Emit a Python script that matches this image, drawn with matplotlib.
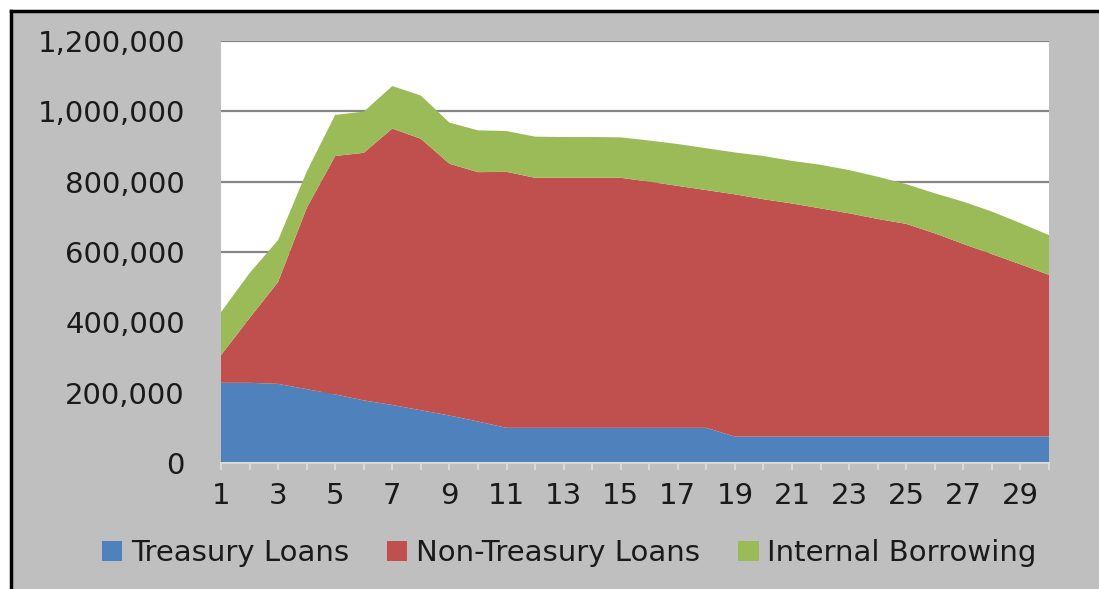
import matplotlib
matplotlib.use("Agg")
import matplotlib.pyplot as plt
from matplotlib.patches import Rectangle, Patch
from matplotlib.lines import Line2D
from matplotlib.ticker import FuncFormatter

years = list(range(1, 31))
treasury = [228000, 228000, 225000, 210000, 195000, 178000, 165000, 150000, 135000, 118000,
            100000, 100000, 100000, 100000, 100000, 100000, 100000, 100000, 75000, 75000,
            75000, 75000, 75000, 75000, 75000, 75000, 75000, 75000, 75000, 75000]
non_treasury = [79000, 184000, 290000, 515000, 678000, 704000, 786000, 772000, 716000, 709000,
                728000, 711000, 711000, 711000, 711000, 700000, 688000, 676000, 689000, 675000,
                663000, 649000, 635000, 619000, 605000, 578000, 548000, 519000, 490000, 460000]
internal = [122000, 128000, 119000, 103000, 117000, 117000, 121000, 123000, 117000, 119000,
            116000, 117000, 116000, 116000, 115000, 117000, 119000, 119000, 119000, 123000,
            121000, 124000, 123000, 120000, 113000, 114000, 120000, 121000, 117000, 113000]
series_names = ["Treasury Loans", "Non-Treasury Loans", "Internal Borrowing"]
colors = ["#4F81BD", "#C0504D", "#9BBB59"]
y_ticks = [0, 200000, 400000, 600000, 800000, 1000000, 1200000]

W, H = 1099, 589
fig = plt.figure(figsize=(W / 100, H / 100), dpi=100, facecolor="white")

# grey chart area with black top/left border
fig.patches.append(Rectangle((12 / W, 0), 1 - 12 / W, (H - 12) / H, transform=fig.transFigure,
                             facecolor="#BFBFBF", edgecolor="none", zorder=-10))
fig.add_artist(Line2D([10.5 / W, 10.5 / W], [0, (H - 10.5) / H], transform=fig.transFigure,
                      color="black", lw=2.5, zorder=-5))
fig.add_artist(Line2D([10.5 / W, 1], [(H - 10.5) / H, (H - 10.5) / H], transform=fig.transFigure,
                      color="black", lw=2.5, zorder=-5))

ax = fig.add_axes([221 / W, (H - 463) / H, (1049 - 221) / W, (463 - 41) / H], zorder=1)
ax.set_facecolor("white")
ax.stackplot(years, treasury, non_treasury, internal, colors=colors, labels=series_names,
             linewidth=0, zorder=2)

ax.set_xlim(1, 30)
ax.set_ylim(0, 1200000)
ax.set_yticks(y_ticks)
ax.yaxis.set_major_formatter(FuncFormatter(lambda v, p: f"{int(v):,}"))
ax.grid(axis="y", color="#868686", lw=1.6, zorder=1)
ax.set_axisbelow(True)

ax.set_xticks(years)
ax.set_xticklabels([str(y) if y % 2 == 1 else "" for y in years])

for s in ["top", "right", "left"]:
    ax.spines[s].set_visible(False)
ax.spines["bottom"].set_color("#D9D9D9")
ax.spines["bottom"].set_linewidth(1.5)
ax.spines["bottom"].set_zorder(3)

font = "DejaVu Sans"
ax.tick_params(axis="y", length=0, pad=26, labelsize=21, labelcolor="#1A1A1A")
ax.tick_params(axis="x", length=5, width=1.5, color="#D9D9D9", direction="out", pad=9,
               labelsize=21, labelcolor="#1A1A1A")
for lbl in ax.get_xticklabels() + ax.get_yticklabels():
    lbl.set_family(font)

handles = [Patch(facecolor=c, edgecolor="none") for c in colors]
fig.legend(handles, series_names, loc="center", bbox_to_anchor=(0.518, 36 / H), ncol=3,
           frameon=False, fontsize=21, handlelength=0.7, handleheight=0.7,
           handletextpad=0.3, columnspacing=1.3, labelcolor="#1A1A1A")

fig.savefig("out.png", dpi=100, facecolor="white")
